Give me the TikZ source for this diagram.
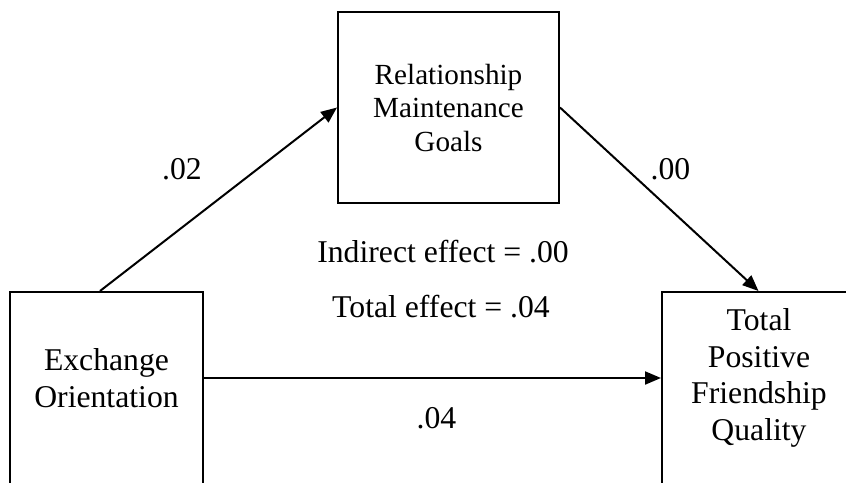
\documentclass[tikz,border=0pt]{standalone}
\usepackage{fontspec}
\setmainfont{Liberation Serif}
\usetikzlibrary{arrows.meta}
\begin{document}
\begin{tikzpicture}[x=1pt,y=-1pt,
  box/.style={draw, line width=2pt, inner sep=0pt},
  boxtext/.style={align=center, inner sep=0pt},
  lbl/.style={inner sep=0pt, anchor=base},
  conn/.style={line width=2pt, -{Triangle[length=16pt,width=13pt]}}]
\useasboundingbox (0,0) rectangle (846,482);
\clip (0,0) rectangle (846,482);
\fontsize{31.7}{37}\selectfont

% variables
\node[box, minimum width=193pt, minimum height=270pt] (lbox) at (106.5,427) {};
\node[box, minimum width=221pt, minimum height=191pt] (mbox) at (448.5,107.5) {};
\node[box, minimum width=193pt, minimum height=270pt] (rbox) at (758.5,427) {};

\node[boxtext, font=\fontsize{31.7}{37}\selectfont] (xtext) at (106.5,378) {Exchange\\Orientation};
\node[boxtext, font=\fontsize{29.2}{33.5}\selectfont] (mtext) at (448.5,108) {Relationship\\Maintenance\\Goals};
\node[boxtext, font=\fontsize{31.7}{36.5}\selectfont] (ytext) at (759,378) {Total\\Positive\\Friendship\\Quality};

% paths
\draw[conn] ([xshift=-6.5pt]lbox.north) -- (mbox.west);
\draw[conn] (mbox.east) -- (rbox.north);
\draw[conn] (lbox.east |- xtext.center) -- (rbox.west |- xtext.center);

% coefficients
\node[lbl] (a) at (182,179) {.02};
\node[lbl] (b) at (670.5,179) {.00};
\node[lbl] (c) at (436.5,428) {.04};
\node[lbl] (ind) at (443,262) {Indirect effect = .00};
\node[lbl] (tot) at (441,317) {Total effect = .04};
\end{tikzpicture}
\end{document}
